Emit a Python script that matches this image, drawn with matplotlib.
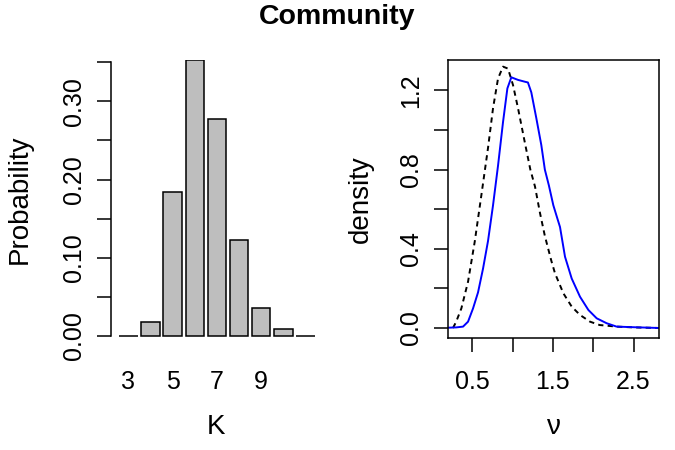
import matplotlib
matplotlib.use("Agg")
import matplotlib.pyplot as plt
import numpy as np

plt.rcParams['font.family'] = ['Liberation Sans', 'DejaVu Sans']

# ---- data ----
K_values = [3, 4, 5, 6, 7, 8, 9, 10, 11]
K_prob = [0.0, 0.0175, 0.184, 0.353, 0.278, 0.123, 0.0354, 0.0085, 0.0]
K_ticklabels = ["3", "5", "7", "9"]
K_tickpos = [3, 5, 7, 9]

nu_post_x = [0.198, 0.30, 0.385, 0.447, 0.509, 0.571, 0.633, 0.695, 0.757, 0.819, 0.881, 0.935,
             0.984, 1.067, 1.15, 1.19, 1.232, 1.294, 1.356, 1.40, 1.45, 1.505, 1.55, 1.588,
             1.65, 1.733, 1.836, 1.94, 2.043, 2.167, 2.29, 2.5, 2.82]
nu_post_y = [0.0015, 0.003, 0.007, 0.032, 0.099, 0.18, 0.30, 0.44, 0.62, 0.82, 1.04, 1.21,
             1.266, 1.253, 1.244, 1.24, 1.19, 1.06, 0.924, 0.80, 0.72, 0.62, 0.56, 0.51,
             0.36, 0.25, 0.158, 0.091, 0.049, 0.024, 0.007, 0.004, 0.0]

nu_prior_x = [0.26, 0.30, 0.364, 0.447, 0.53, 0.612, 0.695, 0.757, 0.819, 0.881, 0.943, 1.005,
              1.067, 1.15, 1.22, 1.278, 1.34, 1.40, 1.48, 1.526, 1.63, 1.733, 1.836, 1.96,
              2.08, 2.29, 2.5, 2.82]
nu_prior_y = [0.0, 0.032, 0.099, 0.234, 0.436, 0.67, 0.91, 1.11, 1.26, 1.32, 1.31, 1.227,
              1.11, 0.94, 0.80, 0.714, 0.58, 0.465, 0.34, 0.276, 0.175, 0.108, 0.066, 0.032,
              0.015, 0.007, 0.003, 0.0]

nu_xticks = [0.5, 1.0, 1.5, 2.0, 2.5]
nu_xticklabels = ["0.5", "", "1.5", "", "2.5"]
nu_yticks = [0.0, 0.2, 0.4, 0.6, 0.8, 1.0, 1.2]
nu_yticklabels = ["0.0", "", "0.4", "", "0.8", "", "1.2"]
prob_yticks = [0.0, 0.05, 0.10, 0.15, 0.20, 0.25, 0.30, 0.35]
prob_yticklabels = ["0.00", "", "0.10", "", "0.20", "", "0.30", ""]

W, H = 675, 450
fig = plt.figure(figsize=(W / 100, H / 100), dpi=100)

def px_axes(x0, x1, y0, y1):
    return fig.add_axes([x0 / W, 1 - y1 / H, (x1 - x0) / W, (y1 - y0) / H])

TICK_FS = 18
LAB_FS = 20
LW = 1.1
CLW = 1.4
TL = 10

# ---- left panel: bar chart ----
ax1 = px_axes(111, 321, 60, 338)
ax1.bar(K_values, K_prob, width=1 / 1.2, color="#BEBEBE", edgecolor="black", linewidth=LW)
ax1.set_xlim(2.219, 11.70)
ax1.set_ylim(-0.00256, 0.35294)
for s in ["top", "right", "bottom"]:
    ax1.spines[s].set_visible(False)
ax1.spines["left"].set_bounds(0, 0.35)
ax1.spines["left"].set_linewidth(LW)
ax1.set_yticks(prob_yticks)
ax1.set_yticklabels(prob_yticklabels, rotation=90, va="center")
ax1.set_xticks(K_tickpos)
ax1.set_xticklabels(K_ticklabels)
ax1.tick_params(axis="y", length=TL, width=LW, labelsize=TICK_FS, pad=8)
ax1.tick_params(axis="x", length=0, labelsize=TICK_FS, pad=23)
ax1.set_xlabel("K", fontsize=LAB_FS, va="center")
ax1.set_ylabel("Probability", fontsize=LAB_FS, va="center")
ax1.xaxis.set_label_coords(0.5, -0.32)
ax1.yaxis.set_label_coords(-0.433, 0.5)

# ---- right panel: densities ----
ax2 = px_axes(448.3, 659.3, 60, 338)
ax2.plot(nu_prior_x, nu_prior_y, color="black", linestyle=(0, (2.7, 2.2)), linewidth=CLW)
ax2.plot(nu_post_x, nu_post_y, color="blue", linewidth=CLW)
ax2.set_xlim(0.202, 2.82)
ax2.set_ylim(-0.0505, 1.3535)
for s in ax2.spines.values():
    s.set_linewidth(LW)
ax2.set_xticks(nu_xticks)
ax2.set_xticklabels(nu_xticklabels)
ax2.set_yticks(nu_yticks)
ax2.set_yticklabels(nu_yticklabels, rotation=90, va="center")
ax2.tick_params(axis="y", length=TL, width=LW, labelsize=TICK_FS, pad=8)
ax2.tick_params(axis="x", length=TL, width=LW, labelsize=TICK_FS, pad=13)
ax2.set_xlabel("\u03bd", fontsize=LAB_FS, va="center")
ax2.set_ylabel("density", fontsize=LAB_FS, va="center")
ax2.xaxis.set_label_coords(0.5, -0.32)
ax2.yaxis.set_label_coords(-0.414, 0.5)

fig.text(337 / W, 1 - 4 / H, "Community", ha="center", va="top", fontsize=20.5, fontweight="bold")

fig.savefig("out.png", dpi=100)
